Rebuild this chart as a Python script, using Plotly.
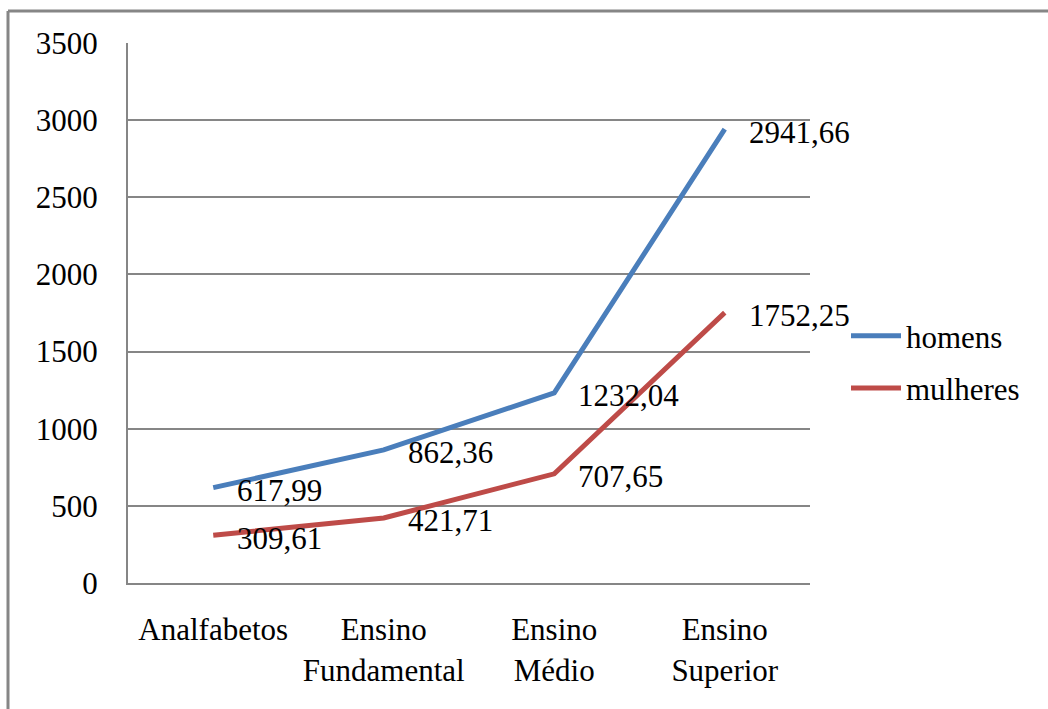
import plotly.graph_objects as go

categories = ["Analfabetos", "Ensino<br>Fundamental", "Ensino<br>Médio", "Ensino<br>Superior"]
homens = [617.99, 862.36, 1232.04, 2941.66]
mulheres = [309.61, 421.71, 707.65, 1752.25]
y_ticks = [0, 500, 1000, 1500, 2000, 2500, 3000, 3500]

FONT = "Liberation Serif"
FS = 31
BLUE = "#4A7EBB"
RED = "#BE4B48"
GRID = "#868686"

fig = go.Figure()
fig.add_trace(go.Scatter(x=categories, y=homens, mode="lines", name="homens",
                         line=dict(color=BLUE, width=5), legendgroup="h"))
fig.add_trace(go.Scatter(x=categories, y=mulheres, mode="lines", name="mulheres",
                         line=dict(color=RED, width=5), legendgroup="m"))

for series in (homens, mulheres):
    for c, v in zip(categories, series):
        fig.add_annotation(x=c, y=v, text=f"{v:.2f}".replace(".", ","),
                           showarrow=False, xanchor="left", yanchor="middle",
                           xshift=22, yshift=-3,
                           font=dict(family=FONT, size=FS, color="black"))

W, H = 1048, 709
L, T, R, B = 128, 43, 238, 126
pw, ph = W - L - R, H - T - B

def px_x(p):
    return (p - L) / pw

def px_y(p):
    return (H - B - p) / ph

# outer chart border (left and top visible)
fig.add_shape(type="line", xref="paper", yref="paper",
              x0=px_x(8), x1=px_x(1100), y0=px_y(11), y1=px_y(11),
              line=dict(color=GRID, width=3))
fig.add_shape(type="line", xref="paper", yref="paper",
              x0=px_x(8), x1=px_x(8), y0=px_y(11), y1=px_y(760),
              line=dict(color=GRID, width=3))

fig.update_layout(
    width=W, height=H,
    margin=dict(l=L, r=R, t=T, b=B, autoexpand=False),
    paper_bgcolor="white", plot_bgcolor="white",
    font=dict(family=FONT, size=FS, color="black"),
    showlegend=True,
    legend=dict(x=px_x(846), y=px_y(309), xanchor="left", yanchor="top",
                font=dict(family=FONT, size=FS, color="black"),
                tracegroupgap=9, itemwidth=50, bgcolor="rgba(0,0,0,0)"),
    xaxis=dict(type="category", range=[-0.5, 3.5], showgrid=False,
               showline=True, linecolor=GRID, linewidth=2, ticks="",
               ticklabelstandoff=18, tickfont=dict(family=FONT, size=FS)),
    yaxis=dict(range=[0, 3500], tickvals=y_ticks, showgrid=True,
               gridcolor=GRID, gridwidth=2, showline=True, linecolor=GRID,
               linewidth=2, ticks="", zeroline=False, ticklabelstandoff=22,
               tickfont=dict(family=FONT, size=FS)),
)

fig.write_html("out.html")
